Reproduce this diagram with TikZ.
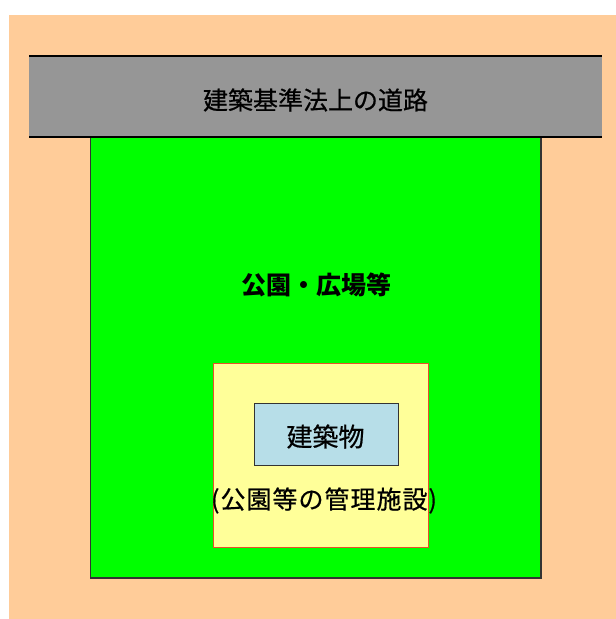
\documentclass[tikz,border=0pt]{standalone}
\usepackage{fontspec}
\newfontfamily\jp[FakeBold=0.6]{Noto Sans CJK JP}
\newfontfamily\jpsp[FakeBold=0.6,LetterSpace=4]{Noto Sans CJK JP}
\newfontfamily\jpb{Noto Sans CJK JP}
\definecolor{peach}{HTML}{FFCC99}
\definecolor{roadgray}{HTML}{969696}
\definecolor{parkgreen}{HTML}{00FF00}
\definecolor{facyellow}{HTML}{FFFF99}
\definecolor{facborder}{HTML}{E8502A}
\definecolor{bldblue}{HTML}{B7DEE8}
\definecolor{darkline}{HTML}{333333}
\tikzset{
  lbl/.style={inner sep=0pt, text=black},
}
\begin{document}
\begin{tikzpicture}[x=1pt,y=-1pt]
\useasboundingbox (0,0) rectangle (616,619);
% background
\fill[peach] (9,15) rectangle (616,619);
% park
\draw[darkline, line width=1.3pt, fill=parkgreen] (90.5,137) rectangle (541,578);
% road
\fill[roadgray] (29,56) rectangle (602,137);
\draw[black, line width=1.6pt] (29,56) -- (602,56);
\draw[black, line width=1.6pt] (29,137) -- (602,137);
% facility
\draw[facborder, line width=1pt, fill=facyellow] (213.5,363) rectangle (428,547);
% building
\draw[darkline, line width=1pt, fill=bldblue] (254.5,403.5) rectangle (398,465);
% labels
\node[lbl, font=\jp\fontsize{25}{28}\selectfont] (road) at (315.5,100) {建築基準法上の道路};
\node[lbl, font=\jpb\bfseries\fontsize{25}{28}\selectfont] (park) at (316,284.5) {公園・広場等};
\node[lbl, font=\jp\fontsize{26}{28}\selectfont] (bldg) at (325.5,436.5) {建築物};
\node[lbl, font=\jpsp\fontsize{25}{28}\selectfont] (fac) at (324,500.5) {(公園等の管理施設)};
\end{tikzpicture}
\end{document}
